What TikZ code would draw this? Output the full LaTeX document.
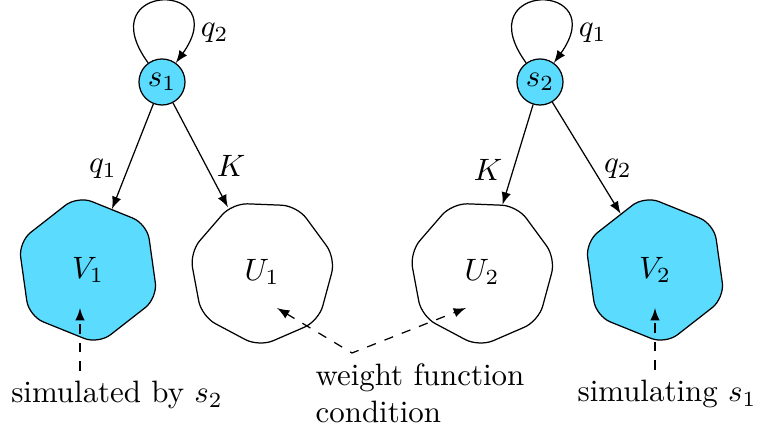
\documentclass[tikz,border=0pt]{standalone}
\usetikzlibrary{shapes.geometric}
\definecolor{simcyan}{HTML}{5BDCFF}
\tikzset{
  statenode/.style={circle,draw,fill=simcyan,minimum size=14.9pt,inner sep=0pt},
  simhex/.style={regular polygon,regular polygon sides=6,shape border rotate=-22,
    draw,fill=simcyan,minimum size=48.5pt,inner sep=0pt,rounded corners=5pt},
  simhept/.style={regular polygon,regular polygon sides=7,shape border rotate=-28,
    draw,minimum size=48.5pt,inner sep=0pt,rounded corners=5pt},
  hint/.style={dashed,->}
}

\begin{document}
\begin{tikzpicture}[x=0.3236pt,y=0.3236pt,>=latex]
  \useasboundingbox (0,0) rectangle (758,433);

  % states
  \node[statenode] (s1) at (162,351) {$s_1$};
  \node[statenode] (s2) at (540,351) {$s_2$};

  % value sets
  \node[simhex]  (V1) at (88,163)  {$V_1$};
  \node[simhept] (U1) at (262,161) {$U_1$};
  \node[simhept] (U2) at (482,161) {$U_2$};
  \node[simhex]  (V2) at (655,163) {$V_2$};

  \draw[->] (s1) to[out=126,in=54,looseness=1,min distance=33pt]
    node[pos=0.86,right] {$q_2$} (s1);
  \draw[->] (s2) to[out=126,in=54,looseness=1,min distance=33pt]
    node[pos=0.86,right] {$q_1$} (s2);
  \draw[->] (s1) -- node[pos=0.62,left] {$q_1$} (V1);
  \draw[->] (s1) -- node[pos=0.6,right] {$K$} (U1);
  \draw[->] (s2) -- node[pos=0.65,left] {$K$} (U2);
  \draw[->] (s2) -- node[pos=0.6,right] {$q_2$} (V2);

  % annotations
  \node[anchor=base] (simby) at (117,30) {simulated by $s_2$};
  \node[anchor=base] (simng) at (667,31) {simulating $s_1$};
  \node[align=left] (wlab) at (420,40) {weight function\\condition};

  \coordinate (v1tip) at (80,125);
  \coordinate (u1tip) at (277,125);
  \coordinate (u2tip) at (466,125);
  \coordinate (v2tip) at (655,125);
  \coordinate (wjoin) at (352,80);

  \draw[hint] (v1tip |- simby.north) -- (v1tip);
  \draw[hint] (v2tip |- simng.north) -- (v2tip);
  \draw[hint,<->] (u1tip) -- (wjoin) -- (u2tip);
\end{tikzpicture}
\end{document}
